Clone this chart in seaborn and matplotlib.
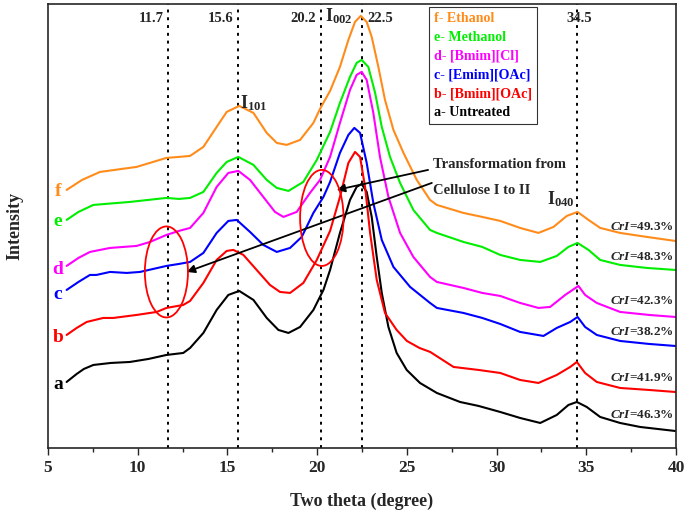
import matplotlib
matplotlib.use("Agg")
import matplotlib.pyplot as plt
import numpy as np
import pandas as pd
import seaborn as sns
from matplotlib.patches import Ellipse
from matplotlib.ticker import MultipleLocator

# xrd patterns, intensity in arbitrary units
theta_a = [6.04, 6.6, 7.0, 7.53, 8.5, 9.57, 10.6, 11.6, 12.54, 12.92, 13.66, 14.40, 15.05, 15.66, 16.45,
           17.19, 17.84, 18.40, 19.05, 19.79, 20.35, 20.72, 21.27, 21.83, 22.2, 22.48, 22.76, 23.04, 23.32,
           23.6, 23.97, 24.43, 24.99, 25.73, 26.67, 27.96, 29.0, 30.2, 31.31, 32.43, 33.35, 34.0, 34.47,
           35.02, 35.77, 36.88, 38.0, 39.95]
int_a = [66, 74, 79, 83, 85, 86, 89, 93, 95, 100, 115, 138, 153, 157, 148,
         130, 118, 115, 121, 138, 158, 178, 215, 248, 261, 264, 256, 231, 191,
         155, 121, 95, 78, 65, 55, 46, 42, 36, 30, 25, 33, 43, 46,
         41, 31, 25, 21, 17]

theta_b = [6.04, 6.6, 7.16, 8.08, 8.64, 9.94, 11.06, 11.6, 12.54, 12.92, 13.66, 14.40, 14.96, 15.33, 15.89,
           16.63, 17.37, 17.93, 18.49, 19.23, 19.98, 20.72, 21.27, 21.74, 22.11, 22.39, 22.67, 22.95, 23.32,
           23.78, 24.43, 25.0, 25.7, 26.3, 27.6, 29.0, 30.2, 31.31, 32.33, 33.35, 34.1, 34.47, 34.93,
           35.58, 36.88, 38.5, 39.95]
int_b = [113, 120, 126, 130, 130, 133, 136, 140, 143, 147, 165, 188, 197, 198, 193,
         178, 163, 156, 155, 165, 188, 217, 251, 285, 296, 291, 261, 215, 168,
         135, 118, 107, 100, 96, 81, 78, 75, 68, 65, 73, 81, 86, 75,
         66, 60, 58, 56]

theta_c = [6.04, 6.7, 7.34, 7.7, 8.46, 9.39, 10.13, 11.6, 12.3, 12.92, 13.66, 14.40, 15.05, 15.52, 16.26,
           17.0, 17.75, 18.49, 19.14, 19.79, 20.35, 20.72, 21.27, 21.74, 22.07, 22.39, 22.76, 23.13, 23.6,
           24.25, 25.18, 26.29, 26.67, 28.15, 29.2, 30.2, 31.31, 32.61, 33.35, 34.1, 34.51, 34.93, 35.58,
           36.88, 38.5, 39.95]
int_c = [158, 166, 173, 173, 176, 175, 176, 182, 184, 186, 195, 215, 227, 228, 216,
         203, 196, 200, 211, 235, 251, 266, 295, 313, 320, 315, 285, 245, 208,
         181, 161, 145, 140, 135, 130, 124, 116, 112, 120, 126, 131, 121, 113,
         107, 104, 102]

theta_d = [6.04, 6.7, 7.34, 8.46, 9.94, 10.69, 11.6, 12.3, 12.92, 13.66, 14.40, 15.05, 15.61, 16.26, 17.0,
           17.65, 18.12, 18.86, 19.60, 20.16, 20.72, 21.27, 21.83, 22.2, 22.48, 22.76, 23.13, 23.5, 23.97,
           24.62, 25.36, 26.29, 26.67, 28.15, 29.2, 30.2, 31.31, 32.33, 32.98, 33.82, 34.56, 34.93, 35.58,
           36.88, 38.5, 39.95]
int_d = [182, 190, 196, 200, 202, 206, 213, 217, 220, 235, 261, 275, 277, 268, 251,
         236, 231, 236, 255, 268, 291, 325, 358, 373, 376, 368, 335, 291, 251,
         215, 191, 171, 166, 160, 155, 152, 145, 140, 141, 153, 162, 153, 145,
         136, 133, 131]

theta_e = [6.04, 6.7, 7.53, 9.57, 11.6, 12.3, 12.92, 13.66, 14.40, 14.96, 15.61, 16.45, 17.19, 17.75, 18.40,
           19.23, 19.98, 20.72, 21.27, 21.83, 22.2, 22.48, 22.85, 23.23, 23.6, 24.06, 24.62, 25.36, 26.29,
           26.67, 28.15, 29.2, 30.2, 31.31, 32.43, 33.35, 34.0, 34.51, 35.12, 35.77, 36.88, 38.37, 39.95]
int_e = [228, 236, 243, 246, 250, 249, 250, 256, 275, 286, 291, 283, 268, 260, 257,
         266, 288, 316, 345, 371, 385, 388, 381, 355, 321, 291, 265, 238, 218,
         215, 206, 201, 193, 188, 186, 192, 201, 205, 198, 188, 183, 180, 178]

theta_f = [6.04, 6.9, 7.9, 9.94, 11.6, 12.3, 12.92, 13.66, 14.40, 14.96, 15.66, 16.45, 17.19, 17.75, 18.30,
           19.05, 19.79, 20.16, 20.72, 21.27, 21.74, 22.11, 22.43, 22.76, 23.04, 23.41, 23.78, 24.25, 24.81,
           25.55, 26.29, 26.67, 28.15, 29.2, 30.2, 31.31, 32.33, 33.17, 33.91, 34.51, 35.12, 35.77, 36.88,
           38.37, 39.95]
int_f = [258, 268, 276, 281, 290, 291, 292, 301, 321, 336, 342, 335, 315, 305, 303,
         308, 325, 339, 357, 381, 408, 426, 432, 426, 411, 381, 348, 318, 295,
         268, 248, 243, 235, 231, 227, 220, 215, 221, 232, 236, 228, 220, 215,
         211, 207]

samples = ["a- Untreated", "b- [Bmim][OAc]", "c- [Emim][OAc]", "d- [Bmim][Cl]", "e- Methanol", "f- Ethanol"]
letters = ["a", "b", "c", "d", "e", "f"]
colors = ["#000000", "#ff0000", "#0000ff", "#ff00ff", "#00ee00", "#ff8c1a"]
cri_labels = ["46.3%", "41.9%", "38.2%", "42.3%", "48.3%", "49.3%"]
peak_lines = [11.7, 15.6, 20.2, 22.5, 34.5]
peak_labels = ["11.7", "15.6", "20.2", "22.5", "34.5"]

thetas = [theta_a, theta_b, theta_c, theta_d, theta_e, theta_f]
ints = [int_a, int_b, int_c, int_d, int_e, int_f]

rows = []
for name, th, it in zip(samples, thetas, ints):
    for t, v in zip(th, it):
        rows.append({"theta": t, "intensity": v, "sample": name})
df = pd.DataFrame(rows)

sns.set_style("ticks")
plt.rcParams["font.family"] = ["Liberation Serif", "DejaVu Serif"]
plt.rcParams["font.weight"] = "bold"
plt.rcParams["mathtext.fontset"] = "custom"
plt.rcParams["mathtext.rm"] = "Liberation Serif:bold"
plt.rcParams["mathtext.bf"] = "Liberation Serif:bold"
plt.rcParams["mathtext.it"] = "Liberation Serif:italic:bold"

fig = plt.figure(figsize=(6.85, 5.17), dpi=100)
ax = fig.add_axes([0.070, 0.1335, 0.917, 0.859])

sns.lineplot(data=df, x="theta", y="intensity", hue="sample", hue_order=samples,
             palette=colors, estimator=None, sort=False, linewidth=1.5, ax=ax, legend=False)

ax.set_xlim(5, 40)
ax.set_ylim(0, 444)

# dotted reference lines
for x, lab in zip(peak_lines, peak_labels):
    ax.axvline(x, color="black", linestyle=(0, (1.5, 2.5)), linewidth=1.4, zorder=1)
    if lab == "22.5":
        ax.text(x + 0.3, 429, lab, ha="left", va="center", fontsize=10.5, fontweight="bold")
    elif lab == "34.5":
        ax.text(x + 0.1, 429, lab, ha="center", va="center", fontsize=10.5, fontweight="bold")
    else:
        ax.text(x - 0.25, 429, lab, ha="right", va="center", fontsize=10.5, fontweight="bold")

ax.text(20.45, 432, "I$_{002}$", ha="left", va="center", fontsize=13)
ax.text(15.7, 345, "I$_{101}$", ha="left", va="center", fontsize=13)
ax.text(32.8, 249, "I$_{040}$", ha="left", va="center", fontsize=13)

# sample letters at left
letter_y = [63, 110, 153, 178, 226, 256]
for let, c, y in zip(letters, colors, letter_y):
    ax.text(5.55, y, let, color=c, ha="center", va="center", fontsize=14, fontweight="bold")

# crystallinity index
cri_y = [33, 70, 116, 147, 191, 221]
for lab, y in zip(cri_labels, cri_y):
    ax.text(38.1, y, r"$\mathit{CrI}$=" + lab, ha="center", va="center", fontsize=9.5)

# red ellipses + arrows
ax.add_patch(Ellipse((11.6, 176), 2.4, 91, fill=False, edgecolor="red", linewidth=1.3, zorder=4))
ax.add_patch(Ellipse((20.26, 230), 2.42, 96, fill=False, edgecolor="red", linewidth=1.3, zorder=4))
ax.annotate("", xy=(21.09, 258), xytext=(26.18, 278),
            arrowprops=dict(arrowstyle="-|>", color="black", lw=1.3, mutation_scale=12, shrinkA=0, shrinkB=0))
ax.annotate("", xy=(12.73, 176), xytext=(26.39, 265),
            arrowprops=dict(arrowstyle="-|>", color="black", lw=1.3, mutation_scale=12, shrinkA=0, shrinkB=0))
ax.text(26.45, 283, "Transformation from", ha="left", va="center", fontsize=10.5, fontweight="bold")
ax.text(26.45, 257, "Cellulose I to II", ha="left", va="center", fontsize=10.5, fontweight="bold")

# legend, text only, f on top
handles = ax.get_lines()[:6]
leg = ax.legend(handles[::-1], samples[::-1], loc="upper right", bbox_to_anchor=(0.779, 0.993),
                handlelength=0, handletextpad=0, labelspacing=0.42, fontsize=10.1,
                frameon=True, fancybox=False, edgecolor="black", borderaxespad=0, borderpad=0.35)
leg.get_frame().set_linewidth(0.8)
for txt, c in zip(leg.get_texts(), colors[::-1]):
    txt.set_color(c)
    txt.set_fontweight("bold")

ax.xaxis.set_major_locator(MultipleLocator(5))
ax.xaxis.set_minor_locator(MultipleLocator(2.5))
ax.tick_params(axis="x", which="major", length=5, width=1, labelsize=12.5, direction="out")
ax.tick_params(axis="x", which="minor", length=3, width=1, direction="out")
ax.set_yticks([])
for s in ax.spines.values():
    s.set_linewidth(1.2)
    s.set_visible(True)

ax.set_xlabel("Two theta (degree)", fontsize=13, fontweight="bold", labelpad=12)
ax.set_ylabel("Intensity", fontsize=13, fontweight="bold", labelpad=18)

fig.savefig("out.png", dpi=100)
